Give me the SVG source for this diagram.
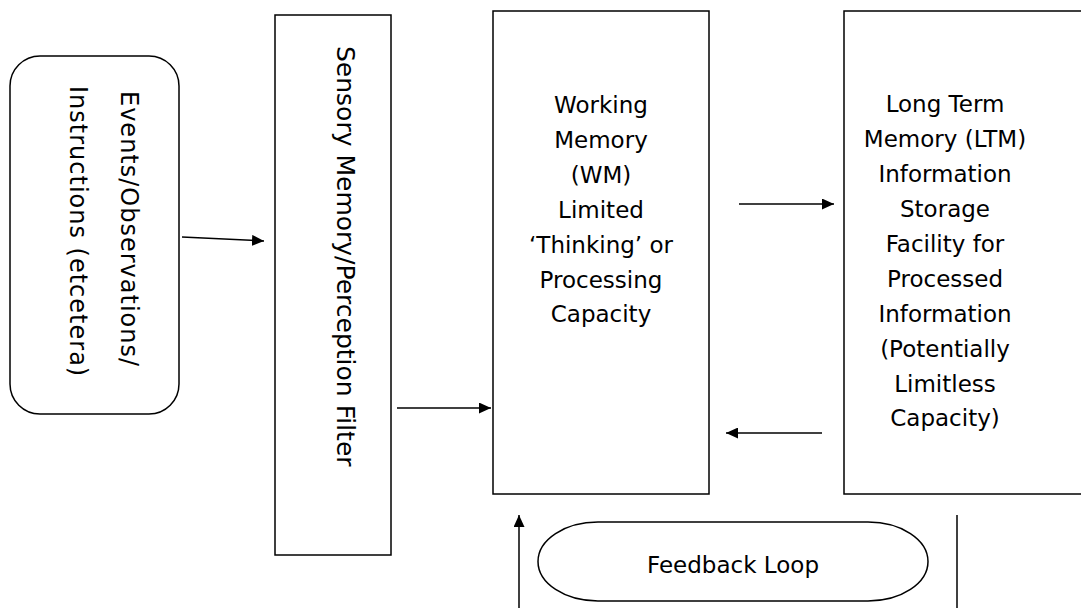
<svg xmlns="http://www.w3.org/2000/svg" width="1081" height="608" viewBox="0 0 1081 608">
<defs>
<marker id="ah" viewBox="0 0 12 11" refX="12" refY="5.5" markerWidth="12" markerHeight="11" markerUnits="userSpaceOnUse" orient="auto">
<path d="M0,0 L12,5.5 L0,11 z" fill="#000"/>
</marker>
<style>
.box{fill:#fff;stroke:#000;stroke-width:1.5}
.t{font-family:"DejaVu Sans","Verdana",sans-serif;font-size:23px;fill:#000;text-anchor:middle}
.v{font-family:"DejaVu Sans","Verdana",sans-serif;font-size:24px;letter-spacing:1px;fill:#000}
.s{font-family:"DejaVu Sans","Verdana",sans-serif;font-size:25px;fill:#000}
.c{stroke:#000;stroke-width:1.5;fill:none}
</style>
</defs>
<rect width="1081" height="608" fill="#fff"/>
<g id="events">
<rect class="box" x="10" y="56" width="169" height="358" rx="30" ry="30"/>
<text class="v" transform="translate(121,91) rotate(90)">Events/Observations/</text>
<text class="v" transform="translate(70,86) rotate(90)">Instructions  (etcetera)</text>
</g>
<g id="sensory">
<rect class="box" x="275" y="15" width="116" height="540"/>
<text class="s" transform="translate(337,46) rotate(90)">Sensory Memory/Perception Filter</text>
</g>
<g id="wm">
<rect class="box" x="493" y="11" width="216" height="483"/>
<text class="t" x="601" y="113">Working</text>
<text class="t" x="601" y="148">Memory</text>
<text class="t" x="601" y="183">(WM)</text>
<text class="t" x="601" y="218">Limited</text>
<text class="t" x="601" y="253">‘Thinking’ or</text>
<text class="t" x="601" y="288">Processing</text>
<text class="t" x="601" y="322">Capacity</text>
</g>
<g id="ltm">
<rect class="box" x="844" y="11" width="250" height="483"/>
<text class="t" x="945" y="112">Long Term</text>
<text class="t" x="945" y="147">Memory (LTM)</text>
<text class="t" x="945" y="182">Information</text>
<text class="t" x="945" y="217">Storage</text>
<text class="t" x="945" y="252">Facility for</text>
<text class="t" x="945" y="287">Processed</text>
<text class="t" x="945" y="322">Information</text>
<text class="t" x="945" y="357">(Potentially</text>
<text class="t" x="945" y="392">Limitless</text>
<text class="t" x="945" y="426">Capacity)</text>
</g>
<g id="feedback">
<rect class="box" x="538" y="522" width="390" height="79" rx="60" ry="39.5"/>
<text class="t" x="733" y="573">Feedback Loop</text>
</g>
<g id="connectors">
<line class="c" x1="182" y1="237" x2="264" y2="241" marker-end="url(#ah)"/>
<line class="c" x1="397" y1="408" x2="491" y2="408" marker-end="url(#ah)"/>
<line class="c" x1="739" y1="204" x2="834" y2="204" marker-end="url(#ah)"/>
<line class="c" x1="822" y1="433" x2="726" y2="433" marker-end="url(#ah)"/>
<line class="c" x1="519" y1="608" x2="519" y2="515" marker-end="url(#ah)"/>
<line class="c" x1="957" y1="515" x2="957" y2="608"/>
</g>
</svg>
